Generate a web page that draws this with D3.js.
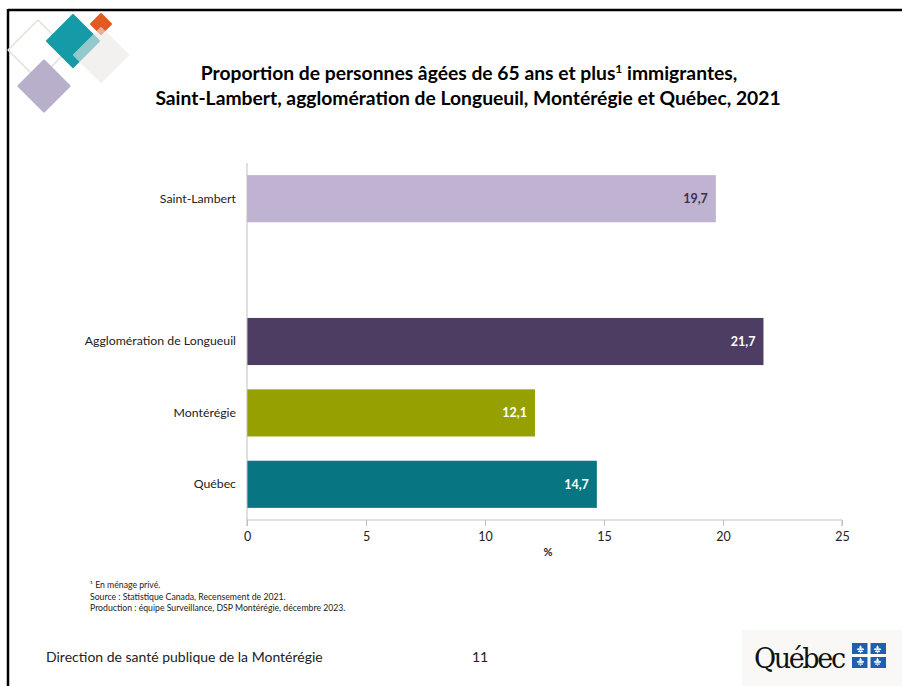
<!DOCTYPE html>
<html><head><meta charset="utf-8">
<script src="https://cdn.jsdelivr.net/npm/d3@7"></script>
<style>
html,body{margin:0;padding:0;background:#fff;}
svg{display:block;}
</style></head>
<body>
<svg id="c" width="902" height="686"></svg>
<script>
const categories = ["Saint-Lambert", "__gap__", "Agglomération de Longueuil", "Montérégie", "Québec"];
const values = [19.7, null, 21.7, 12.1, 14.7];
const valueLabels = ["19,7", "", "21,7", "12,1", "14,7"];
const barColors = ["#c0b3d2", "none", "#4e3d63", "#96a000", "#087582"];
const labelColors = ["#3b3050", "none", "#ffffff", "#ffffff", "#ffffff"];
const xTicks = [0, 5, 10, 15, 20, 25];
const titleLines = ["Proportion de personnes âgées de 65 ans et plus", "Saint-Lambert, agglomération de Longueuil, Montérégie et Québec, 2021"];
const notes = ["¹ En ménage privé.", "Source : Statistique Canada, Recensement de 2021.", "Production : équipe Surveillance, DSP Montérégie, décembre 2023."];

const svg = d3.select("#c");
const font = "Lato, 'Open Sans', sans-serif";

// frame
svg.append("line").attr("x1",8).attr("x2",902).attr("y1",10).attr("y2",10).attr("stroke","#000").attr("stroke-width",2.5);
svg.append("line").attr("x1",8).attr("x2",8).attr("y1",9).attr("y2",686).attr("stroke","#000").attr("stroke-width",2.5);

// decoration
const deco = svg.append("g");
function diamond(cx, cy, h){ return `M${cx},${cy-h}L${cx+h},${cy}L${cx},${cy+h}L${cx-h},${cy}Z`; }
deco.append("path").attr("d", diamond(38,50,30)).attr("fill","none").attr("stroke","#dfe3d8").attr("stroke-width",1.5).attr("stroke-linejoin","round");
deco.append("path").attr("d", diamond(44,86,25)).attr("fill","#b8b0cb").attr("stroke","#b8b0cb").attr("stroke-width",3).attr("stroke-linejoin","round");
deco.append("path").attr("d", diamond(73,41,26)).attr("fill","#159aa8").attr("stroke","#159aa8").attr("stroke-width",2).attr("stroke-linejoin","round");
deco.append("path").attr("d", diamond(101,24,10)).attr("fill","#e35b20").attr("stroke","#e35b20").attr("stroke-width",2).attr("stroke-linejoin","round");
deco.append("path").attr("d", diamond(101,55,27)).attr("fill","#ebe8e6").attr("opacity",0.6).attr("stroke","#ebe8e6").attr("stroke-width",2).attr("stroke-linejoin","round");

// title
const t = svg.append("text").attr("x",469).attr("y",80).attr("text-anchor","middle")
  .attr("font-family",font).attr("font-weight","bold").attr("font-size",19.3).attr("fill","#000");
t.append("tspan").text(titleLines[0]);
t.append("tspan").attr("dy",-7).attr("font-size",12).text("1");
t.append("tspan").attr("dy",7).text(" immigrantes,");
svg.append("text").attr("x",468).attr("y",105).attr("text-anchor","middle")
  .attr("font-family",font).attr("font-weight","bold").attr("font-size",19.3).attr("fill","#000").text(titleLines[1]);

// chart
const x = d3.scaleLinear().domain([0,25]).range([247,842]);
const y = d3.scaleBand().domain(categories).range([163,520]).paddingInner(0.34).paddingOuter(0.17);

const data = categories.map((c,i)=>({c, v:values[i], lab:valueLabels[i], col:barColors[i], lc:labelColors[i]})).filter(d=>d.v!==null);

svg.append("g").selectAll("rect").data(data).join("rect")
  .attr("x", x(0)).attr("y", d=>y(d.c)).attr("width", d=>x(d.v)-x(0)).attr("height", y.bandwidth())
  .attr("fill", d=>d.col);

svg.append("g").selectAll("text").data(data).join("text")
  .attr("x", d=>x(d.v)-8).attr("y", d=>y(d.c)+y.bandwidth()/2+4.5)
  .attr("text-anchor","end").attr("font-family",font).attr("font-weight","bold").attr("font-size",12.5)
  .attr("fill", d=>d.lc).text(d=>d.lab);

// y axis
const yAxis = svg.append("g").attr("transform",`translate(${x(0)},0)`)
  .call(d3.axisLeft(y).tickSize(0).tickPadding(11).tickFormat(d=>d==="__gap__"?"":d));
yAxis.select(".domain").attr("stroke","#bfbfbf").attr("d","M0,163V520");
yAxis.selectAll("text").attr("font-family",font).attr("font-size",12.3).attr("fill","#222");

// x axis
const xAxis = svg.append("g").attr("transform","translate(0,520)")
  .call(d3.axisBottom(x).tickValues(xTicks).tickSize(6).tickPadding(6).tickFormat(d3.format("d")));
xAxis.select(".domain").attr("stroke","#bfbfbf").attr("d","M247,6V0H842V6");
xAxis.selectAll(".tick line").attr("stroke","#bfbfbf");
xAxis.selectAll("text").attr("font-family",font).attr("font-size",12.5).attr("fill","#222");
svg.append("text").attr("x",548).attr("y",556).attr("text-anchor","middle")
  .attr("font-family",font).attr("font-weight","bold").attr("font-size",11).attr("fill","#222").text("%");

// notes
svg.append("g").selectAll("text").data(notes).join("text")
  .attr("x",90).attr("y",(d,i)=>588+i*11.5).attr("font-family",font).attr("font-size",8.7).attr("fill","#222").text(d=>d);

// footer
svg.append("text").attr("x",46).attr("y",662).attr("font-family",font).attr("font-size",14).attr("fill","#222").text("Direction de santé publique de la Montérégie");
svg.append("text").attr("x",472).attr("y",662).attr("font-family",font).attr("font-size",14).attr("fill","#222").text("11");

// logo
const logo = svg.append("g");
logo.append("rect").attr("x",742).attr("y",630).attr("width",160).attr("height",56).attr("fill","#faf8f6");
logo.append("text").attr("x",754).attr("y",668).attr("font-family","'DejaVu Serif', serif").attr("font-size",27).attr("fill","#111").attr("textLength",92).text("Québec");
const fx0 = 852, fy0 = 643, fw = 34, fh = 25;
logo.append("rect").attr("x",fx0).attr("y",fy0).attr("width",fw).attr("height",fh).attr("fill","#1f5fae");
logo.append("rect").attr("x",fx0+fw/2-1.5).attr("y",fy0).attr("width",3).attr("height",fh).attr("fill","#fff");
logo.append("rect").attr("x",fx0).attr("y",fy0+fh/2-1.5).attr("width",fw).attr("height",3).attr("fill","#fff");
[[fw*0.25,fh*0.25],[fw*0.75,fh*0.25],[fw*0.25,fh*0.75],[fw*0.75,fh*0.75]].forEach(([dx,dy])=>{
  const g = logo.append("g").attr("transform",`translate(${fx0+dx},${fy0+dy})`);
  g.append("path").attr("d","M0,-4C1.6,-2.5 1.6,-0.5 0,1.5C-1.6,-0.5 -1.6,-2.5 0,-4Z").attr("fill","#fff");
  g.append("path").attr("d","M-0.5,0C-2,-1.8 -4,-1 -3.5,1C-2.5,0.5 -1.5,1 -1,2Z").attr("fill","#fff");
  g.append("path").attr("d","M0.5,0C2,-1.8 4,-1 3.5,1C2.5,0.5 1.5,1 1,2Z").attr("fill","#fff");
  g.append("rect").attr("x",-2.5).attr("y",1.8).attr("width",5).attr("height",1).attr("fill","#fff");
  g.append("path").attr("d","M-0.7,2.8L0.7,2.8L0,4.5Z").attr("fill","#fff");
});
</script>
</body></html>
